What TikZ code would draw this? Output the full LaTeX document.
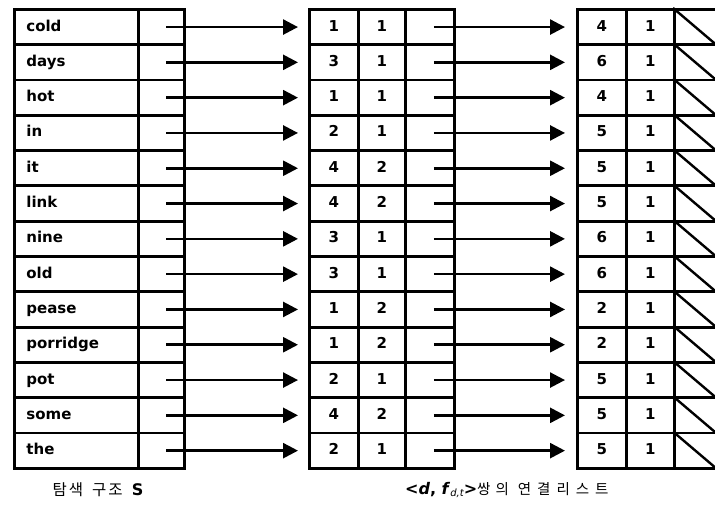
\documentclass[tikz,border=0pt]{standalone}
\usepackage{fontspec}
\setmainfont{DejaVu Sans}
\newfontfamily\kr{Noto Sans CJK KR}
\usetikzlibrary{arrows.meta}
\begin{document}
\begin{tikzpicture}[x=1pt,y=-1pt,
 cell/.style={draw, line width=2.8pt, minimum height=35.3pt, inner sep=0pt, anchor=north west,
   text height=11pt, text depth=3pt, font=\bfseries\fontsize{15}{16}\selectfont},
 arr/.style={line width=2.6pt, -{Triangle[length=15pt,width=15pt]}},
 slash/.style={line width=2.4pt},
]
\useasboundingbox (0,0) rectangle (715,505);
\def\rh{35.3}
\foreach [count=\i from 0] \w/\a/\b/\c/\d in {cold/1/1/4/1, days/3/1/6/1, hot/1/1/4/1, in/2/1/5/1, it/4/2/5/1, link/4/2/5/1, nine/3/1/6/1, old/3/1/6/1, pease/1/2/2/1, porridge/1/2/2/1, pot/2/1/5/1, some/4/2/5/1, the/2/1/5/1} {
 \pgfmathsetmacro\t{8+\rh*\i}
 \node[cell, minimum width=124pt, text width=100pt, align=left] (w\i) at (13,\t) {\w};
 \node[cell, minimum width=46pt] (p\i) at (137,\t) {};
 \node[cell, minimum width=49pt] (ma\i) at (308,\t) {\a};
 \node[cell, minimum width=47pt] (mb\i) at (357,\t) {\b};
 \node[cell, minimum width=49pt] (mc\i) at (404,\t) {};
 \node[cell, minimum width=49pt] (ra\i) at (576,\t) {\c};
 \node[cell, minimum width=48pt] (rb\i) at (625,\t) {\d};
 \node[cell, minimum width=46pt] (rc\i) at (673,\t) {};
 \draw[slash] (rc\i.north west) -- ([xshift=-4pt]rc\i.south east);
 \draw[arr, shorten >=10pt] ([xshift=5pt]p\i.center) -- (ma\i.west);
 \draw[arr, shorten >=11pt] ([xshift=4pt]mc\i.center) -- (ra\i.west);
}
\node (cap1) at (98,490) {\kr\fontsize{15.5}{15}\selectfont 탐\hspace{2pt}색\hspace{9pt}구\hspace{2pt}조\hspace{9pt}{\fontspec{DejaVu Sans}\bfseries\fontsize{16}{16}\selectfont S}};
\node[anchor=west, inner sep=0pt] (cap2) at (405,490) {\bfseries\fontsize{16}{16}\selectfont <\textit{d}, \textit{f}\raisebox{-2.5pt}{\fontsize{10}{10}\selectfont\mdseries\itshape d,t}>{\kr\mdseries\fontsize{14.5}{14}\selectfont 쌍\hspace{5pt}의\hspace{9pt}연\hspace{6pt}결\hspace{6pt}리\hspace{6pt}스\hspace{6pt}트}};
\end{tikzpicture}
\end{document}
